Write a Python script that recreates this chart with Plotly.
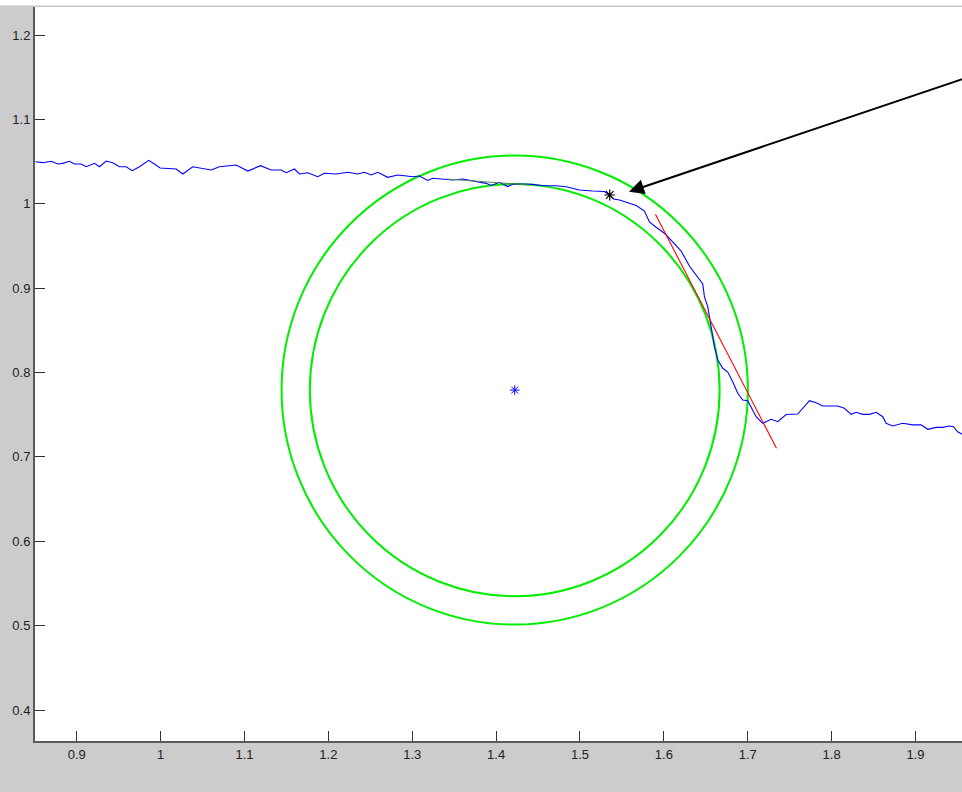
import plotly.graph_objects as go

# Measured profile (blue trace)
profile_x = [
    0.8508, 0.8595, 0.8695, 0.8773, 0.8833, 0.8913, 0.8973, 0.9052, 0.9112, 0.9211,
    0.9271, 0.9351, 0.9429, 0.9509, 0.9589, 0.9661, 0.9748, 0.9858, 0.9926, 0.9994,
    1.0185, 1.0264, 1.0383, 1.0502, 1.0602, 1.0701, 1.0800, 1.0901, 1.1039, 1.1190,
    1.1318, 1.1437, 1.1497, 1.1596, 1.1655, 1.1754, 1.1873, 1.1953, 1.2093, 1.2231,
    1.2350, 1.2430, 1.2510, 1.2589, 1.2708, 1.2827, 1.2907, 1.3006, 1.3086, 1.3185,
    1.3245, 1.3384, 1.3483, 1.3602, 1.3722, 1.3881, 1.3941, 1.4040, 1.4139, 1.4198,
    1.4278, 1.4437, 1.4556, 1.4716, 1.4835, 1.4994, 1.5152, 1.5292, 1.5351, 1.5399,
    1.5471, 1.5590, 1.5670, 1.5769, 1.5828, 1.5908, 1.6007, 1.6106, 1.6206, 1.6305,
    1.6404, 1.6464, 1.6484, 1.6523, 1.6564, 1.6603, 1.6643, 1.6702, 1.6762, 1.6821,
    1.6881, 1.6941, 1.7000, 1.7041, 1.7100, 1.7179, 1.7279, 1.7358, 1.7458, 1.7596,
    1.7656, 1.7736, 1.7816, 1.7895, 1.8073, 1.8153, 1.8233, 1.8293, 1.8372, 1.8451,
    1.8531, 1.8610, 1.8650, 1.8729, 1.8848, 1.8968, 1.9068, 1.9147, 1.9247, 1.9325,
    1.9405, 1.9453, 1.9504, 1.9548, 1.9596,
]
profile_y = [
    1.0498, 1.0487, 1.0503, 1.0471, 1.0479, 1.0503, 1.0471, 1.0471, 1.0439, 1.0479,
    1.0439, 1.0507, 1.0487, 1.0439, 1.0439, 1.0392, 1.0439, 1.0515, 1.0471, 1.0424,
    1.0412, 1.0353, 1.0439, 1.0420, 1.0400, 1.0439, 1.0447, 1.0459, 1.0388, 1.0451,
    1.0400, 1.0400, 1.0368, 1.0412, 1.0353, 1.0368, 1.0321, 1.0361, 1.0353, 1.0373,
    1.0353, 1.0373, 1.0341, 1.0373, 1.0313, 1.0341, 1.0332, 1.0321, 1.0329, 1.0276,
    1.0302, 1.0293, 1.0281, 1.0293, 1.0273, 1.0242, 1.0216, 1.0254, 1.0204, 1.0230,
    1.0234, 1.0230, 1.0214, 1.0214, 1.0202, 1.0163, 1.0151, 1.0145, 1.0104, 1.0056,
    1.0044, 1.0003, 0.9979, 0.9914, 0.9784, 0.9721, 0.9650, 0.9547, 0.9440, 0.9262,
    0.9128, 0.9049, 0.8898, 0.8780, 0.8543, 0.8306, 0.8148, 0.8050, 0.8006, 0.7891,
    0.7754, 0.7674, 0.7666, 0.7594, 0.7476, 0.7398, 0.7445, 0.7417, 0.7502, 0.7508,
    0.7576, 0.7666, 0.7642, 0.7603, 0.7603, 0.7576, 0.7504, 0.7528, 0.7504, 0.7504,
    0.7528, 0.7476, 0.7398, 0.7366, 0.7398, 0.7379, 0.7379, 0.7327, 0.7350, 0.7350,
    0.7366, 0.7358, 0.7298, 0.7271, 0.7247,
]

# Short fitted segment along the top of the inner circle
fit_x = [1.3407, 1.4397]
fit_y = [1.0293, 1.0222]

# Tangent line (red)
tangent_x = [1.5900, 1.7343]
tangent_y = [0.9875, 0.7102]

# Circle centre and the two radii
center_x = [1.4222]
center_y = [0.7792]
radius_outer = 0.2780
radius_inner = 0.2443

# Selected point on the profile
point_x = [1.5355]
point_y = [1.0104]

# Arrow: head and tail
arrow_head = (1.5585, 1.0143)
arrow_tail = (1.9700, 1.1525)

x_ticks = [0.9, 1.0, 1.1, 1.2, 1.3, 1.4, 1.5, 1.6, 1.7, 1.8, 1.9]
x_tick_text = ["0.9", "1", "1.1", "1.2", "1.3", "1.4", "1.5", "1.6", "1.7", "1.8", "1.9"]
y_ticks = [0.4, 0.5, 0.6, 0.7, 0.8, 0.9, 1.0, 1.1, 1.2]
y_tick_text = ["0.4", "0.5", "0.6", "0.7", "0.8", "0.9", "1", "1.1", "1.2"]

x_range = [0.8502, 1.9555]
y_range = [0.36326, 1.2332]

W, H = 962, 792
M_L, M_R, M_T, M_B = 35, 0, 7, 51
plot_h = H - M_T - M_B
plot_w = W - M_L - M_R

fig = go.Figure()

fig.add_trace(go.Scatter(
    x=profile_x, y=profile_y, mode="lines",
    line=dict(color="#0000FF", width=1.1), hoverinfo="skip", showlegend=False,
))
fig.add_trace(go.Scatter(
    x=fit_x, y=fit_y, mode="lines",
    line=dict(color="#4E8A4E", width=1), hoverinfo="skip", showlegend=False,
))
fig.add_trace(go.Scatter(
    x=tangent_x, y=tangent_y, mode="lines",
    line=dict(color="#FF0000", width=1.1), hoverinfo="skip", showlegend=False,
))
fig.add_trace(go.Scatter(
    x=center_x, y=center_y, mode="markers",
    marker=dict(symbol="asterisk-open", size=8, color="#0000FF",
                line=dict(color="#0000FF", width=1)),
    hoverinfo="skip", showlegend=False,
))
fig.add_trace(go.Scatter(
    x=point_x, y=point_y, mode="markers",
    marker=dict(symbol="asterisk-open", size=9, color="#000000",
                line=dict(color="#000000", width=1.2)),
    hoverinfo="skip", showlegend=False,
))

shapes = []
for r in (radius_outer, radius_inner):
    shapes.append(dict(
        type="circle", xref="x", yref="y", layer="below",
        x0=center_x[0] - r, x1=center_x[0] + r,
        y0=center_y[0] - r, y1=center_y[0] + r,
        line=dict(color="#00EE00", width=2),
    ))

# White strip above the axes and its thin border
top_band = (M_T) / plot_h
shapes.append(dict(
    type="rect", xref="paper", yref="paper", layer="above",
    x0=-M_L / plot_w, x1=1.0, y0=1.0 + 1.0 / plot_h, y1=1.0 + top_band + 0.002,
    fillcolor="#FFFFFF", line=dict(width=0),
))
shapes.append(dict(
    type="line", xref="paper", yref="paper", layer="above",
    x0=-M_L / plot_w, x1=1.0, y0=1.0 + 1.0 / plot_h, y1=1.0 + 1.0 / plot_h,
    line=dict(color="#C4C4C4", width=1),
))

fig.add_annotation(
    x=arrow_head[0], y=arrow_head[1], xref="x", yref="y",
    ax=arrow_tail[0], ay=arrow_tail[1], axref="x", ayref="y",
    text="", showarrow=True, arrowhead=2, arrowsize=1.5, arrowwidth=2,
    arrowcolor="#000000", standoff=0,
)

axis_font = dict(family="Liberation Sans, Arial, sans-serif", size=13, color="#222222")

fig.update_layout(
    width=W, height=H,
    margin=dict(l=M_L, r=M_R, t=M_T, b=M_B, pad=0),
    paper_bgcolor="#CCCCCC",
    plot_bgcolor="#FFFFFF",
    showlegend=False,
    shapes=shapes,
    xaxis=dict(
        range=x_range, tickvals=x_ticks, ticktext=x_tick_text,
        ticks="inside", ticklen=10, tickwidth=1, tickcolor="#333333",
        showline=True, linecolor="#5A5A5A", linewidth=2,
        showgrid=False, zeroline=False, tickfont=axis_font,
    ),
    yaxis=dict(
        range=y_range, tickvals=y_ticks, ticktext=y_tick_text,
        ticks="inside", ticklen=10, tickwidth=1, tickcolor="#333333",
        showline=True, linecolor="#5A5A5A", linewidth=2,
        showgrid=False, zeroline=False, tickfont=axis_font,
    ),
)

fig.write_html("out.html", config={"displayModeBar": False})
